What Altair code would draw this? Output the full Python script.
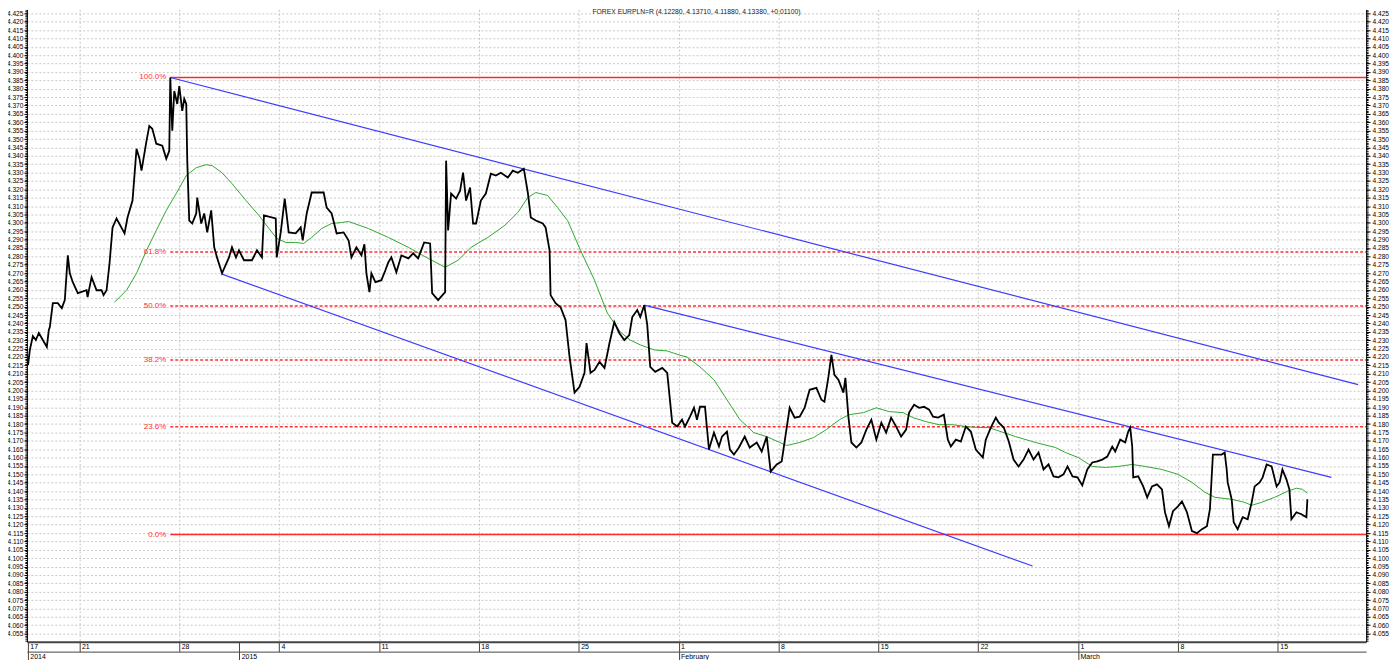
import altair as alt
import pandas as pd

# x unit: trading days since Monday 15 Dec 2014 (weekends removed, 5 per week)
# y unit: EUR/PLN rate
price_t = [2.43, 2.52, 2.67, 2.82, 2.97, 3.17, 3.37, 3.47, 3.52, 3.67, 3.92, 4.12, 4.27, 4.42, 4.52, 4.67, 4.92,
           5.36, 5.41, 5.61, 5.86, 6.11, 6.21, 6.36, 6.51, 6.66, 6.86, 7.26, 7.41, 7.66, 7.86, 8.01, 8.11, 8.36,
           8.50, 8.65, 8.85, 9.15, 9.35, 9.50, 9.55, 9.65, 9.75, 9.90, 10.00, 10.15, 10.25, 10.35, 10.40, 10.50,
           10.65, 10.85, 10.90, 11.10, 11.25, 11.40, 11.60, 11.75, 11.89, 12.14, 12.49, 12.64, 12.84, 12.99, 13.24,
           13.64, 13.89, 14.14, 14.24, 14.83, 14.88, 15.08, 15.28, 15.48, 15.83, 16.08, 16.18, 16.38, 16.63, 17.23,
           17.38, 17.63, 17.88, 18.23, 18.48, 18.62, 18.87, 19.12, 19.27, 19.37, 19.52, 19.62, 19.82, 20.12, 20.32,
           20.47, 20.62, 20.87, 21.12, 21.47, 21.71, 21.96, 22.26, 22.56, 22.66, 22.96, 23.31, 23.36, 23.46, 23.61,
           23.86, 24.06, 24.21, 24.36, 24.56, 24.71, 24.86, 25.10, 25.35, 25.60, 25.85, 26.10, 26.45, 26.70, 26.95,
           27.25, 27.45, 27.60, 27.85, 28.20, 28.34, 28.54, 28.59, 28.84, 29.09, 29.34, 29.54, 29.79, 30.04, 30.29,
           30.39, 30.59, 30.79, 31.04, 31.29, 31.54, 31.78, 32.03, 32.28, 32.53, 32.68, 32.93, 33.08, 33.28, 33.43,
           33.58, 33.83, 34.18, 34.43, 34.68, 34.93, 35.17, 35.32, 35.57, 35.77, 35.92, 36.07, 36.32, 36.52, 36.77,
           37.02, 37.17, 37.42, 37.57, 37.77, 38.02, 38.31, 38.56, 38.91, 39.16, 39.41, 39.61, 39.91, 40.16, 40.31,
           40.56, 40.81, 41.06, 41.31, 41.56, 41.90, 42.15, 42.30, 42.50, 42.65, 42.80, 43.00, 43.25, 43.35, 43.50,
           43.65, 43.90, 44.15, 44.40, 44.65, 44.90, 45.15, 45.39, 45.64, 45.89, 46.14, 46.39, 46.54, 46.79, 47.04,
           47.29, 47.54, 47.74, 47.99, 48.28, 48.48, 48.63, 48.88, 49.13, 49.38, 49.63, 49.88, 50.23, 50.38, 50.63,
           50.88, 51.03, 51.28, 51.53, 51.77, 52.02, 52.27, 52.52, 52.77, 53.02, 53.27, 53.52, 53.77, 54.02, 54.27,
           54.47, 54.72, 54.97, 55.21, 55.46, 55.71, 55.96, 56.21, 56.46, 56.71, 56.86, 57.11, 57.36, 57.51, 57.61,
           57.71, 57.76, 58.01, 58.26, 58.46, 58.70, 58.95, 59.20, 59.35, 59.55, 59.75, 60.00, 60.20, 60.45, 60.70,
           60.95, 61.20, 61.45, 61.60, 61.75, 61.94, 62.19, 62.34, 62.44, 62.49, 62.69, 62.79, 62.99, 63.24, 63.49,
           63.69, 63.84, 64.09, 64.24, 64.44, 64.69, 64.94, 65.09, 65.23, 65.43, 65.58, 65.68, 65.93, 66.18, 66.43,
           66.48]
price_v = [4.2153, 4.2242, 4.2325, 4.2301, 4.2343, 4.2301, 4.2260, 4.2361, 4.2378, 4.2521, 4.2521, 4.2491, 4.2539,
           4.2806, 4.2699, 4.2646, 4.2581, 4.2598, 4.2557, 4.2676, 4.2598, 4.2598, 4.2569, 4.2598, 4.2759, 4.2973,
           4.3026, 4.2937, 4.3032, 4.3133, 4.3442, 4.3383, 4.3311, 4.3489, 4.3578, 4.3561, 4.3472, 4.3460, 4.3383,
           4.3430, 4.3867, 4.3549, 4.3786, 4.3709, 4.3816, 4.3668, 4.3739, 4.3709, 4.3371, 4.3014, 4.2996, 4.3056,
           4.3151, 4.2996, 4.3056, 4.2943, 4.3074, 4.2854, 4.2794, 4.2699, 4.2794, 4.2854, 4.2794, 4.2836, 4.2777,
           4.2777, 4.2836, 4.2794, 4.3044, 4.3026, 4.2794, 4.2943, 4.3145, 4.2943, 4.2937, 4.2973, 4.2895, 4.3056,
           4.3181, 4.3181, 4.3091, 4.3056, 4.2937, 4.2943, 4.2895, 4.2794, 4.2854, 4.2806, 4.2872, 4.2699, 4.2587,
           4.2699, 4.2646, 4.2658, 4.2717, 4.2765, 4.2794, 4.2705, 4.2806, 4.2788, 4.2818, 4.2788, 4.2883, 4.2877,
           4.2581, 4.2539, 4.2587, 4.3371, 4.2955, 4.3175, 4.3145, 4.3192, 4.3299, 4.3133, 4.3210, 4.2996, 4.2996,
           4.3133, 4.3175, 4.3293, 4.3282, 4.3299, 4.3270, 4.3311, 4.3299, 4.3323, 4.3181, 4.3032, 4.3014, 4.2996,
           4.2973, 4.2836, 4.2569, 4.2521, 4.2497, 4.2420, 4.2200, 4.1987, 4.2022, 4.2105, 4.2283, 4.2105, 4.2123,
           4.2171, 4.2135, 4.2283, 4.2408, 4.2343, 4.2301, 4.2331, 4.2438, 4.2480, 4.2438, 4.2509, 4.2391, 4.2141,
           4.2111, 4.2135, 4.2105, 4.1808, 4.1785, 4.1826, 4.1785, 4.1844, 4.1897, 4.1826, 4.1903, 4.1903, 4.1648,
           4.1749, 4.1666, 4.1725, 4.1755, 4.1648, 4.1618, 4.1660, 4.1725, 4.1660, 4.1690, 4.1636, 4.1725, 4.1517,
           4.1559, 4.1577, 4.1696, 4.1897, 4.1838, 4.1844, 4.1897, 4.2004, 4.2016, 4.1945, 4.1933, 4.2081, 4.2212,
           4.2093, 4.2064, 4.1987, 4.2075, 4.1844, 4.1690, 4.1660, 4.1690, 4.1767, 4.1826, 4.1707, 4.1808, 4.1749,
           4.1838, 4.1785, 4.1725, 4.1767, 4.1868, 4.1915, 4.1897, 4.1903, 4.1886, 4.1844, 4.1838, 4.1856, 4.1707,
           4.1666, 4.1707, 4.1696, 4.1785, 4.1755, 4.1648, 4.1600, 4.1707, 4.1779, 4.1838, 4.1808, 4.1779, 4.1696,
           4.1588, 4.1547, 4.1588, 4.1648, 4.1588, 4.1630, 4.1529, 4.1559, 4.1488, 4.1482, 4.1500, 4.1547, 4.1488,
           4.1482, 4.1434, 4.1529, 4.1571, 4.1577, 4.1588, 4.1606, 4.1666, 4.1636, 4.1707, 4.1690, 4.1755, 4.1779,
           4.1666, 4.1482, 4.1488, 4.1428, 4.1363, 4.1428, 4.1440, 4.1410, 4.1274, 4.1191, 4.1280, 4.1309, 4.1339,
           4.1274, 4.1161, 4.1149, 4.1173, 4.1191, 4.1292, 4.1618, 4.1618, 4.1618, 4.1630, 4.1529, 4.1452, 4.1351,
           4.1214, 4.1173, 4.1244, 4.1232, 4.1333, 4.1428, 4.1452, 4.1482, 4.1559, 4.1547, 4.1428, 4.1452, 4.1529,
           4.1470, 4.1410, 4.1232, 4.1274, 4.1262, 4.1244, 4.1351]

ma_t = [6.76, 7.36, 7.86, 8.36, 8.85, 9.35, 9.85, 10.35, 10.85, 11.35, 11.65, 12.14, 12.64, 13.34, 13.99, 14.49,
        14.88, 15.33, 15.83, 16.23, 16.63, 17.13, 17.63, 18.13, 18.48, 19.47, 20.47, 21.47, 22.46, 23.31, 23.96,
        24.61, 25.45, 26.30, 26.95, 27.45, 27.85, 28.44, 28.94, 29.44, 30.09, 30.79, 31.43, 32.08, 32.58, 33.08,
        33.78, 34.43, 35.07, 35.42, 36.07, 36.77, 37.42, 38.07, 38.76, 39.41, 40.06, 40.41, 41.06, 41.75, 42.40,
        43.05, 43.55, 44.25, 44.90, 45.54, 46.24, 46.74, 47.39, 48.04, 48.73, 49.38, 50.04, 50.53, 51.87, 52.87,
        53.87, 54.37, 55.01, 55.71, 56.36, 57.01, 57.71, 58.36, 59.20, 60.00, 60.70, 61.35, 61.85, 62.69, 63.34,
        63.69, 64.19, 64.84, 65.48, 65.93, 66.23, 66.48]
ma_v = [4.2527, 4.2598, 4.2699, 4.2836, 4.2955, 4.3074, 4.3175, 4.3282, 4.3329, 4.3347, 4.3341, 4.3299, 4.3234,
        4.3133, 4.3044, 4.2966, 4.2907, 4.2883, 4.2883, 4.2877, 4.2913, 4.2966, 4.2996, 4.3002, 4.3008, 4.2966,
        4.2913, 4.2854, 4.2788, 4.2735, 4.2777, 4.2854, 4.2913, 4.2985, 4.3062, 4.3151, 4.3181, 4.3163, 4.3091,
        4.3014, 4.2836, 4.2658, 4.2462, 4.2349, 4.2301, 4.2272, 4.2242, 4.2236, 4.2210, 4.2200, 4.2141, 4.2064,
        4.1945, 4.1826, 4.1749, 4.1725, 4.1690, 4.1672, 4.1690, 4.1719, 4.1767, 4.1826, 4.1856, 4.1868, 4.1897,
        4.1874, 4.1868, 4.1838, 4.1814, 4.1796, 4.1796, 4.1785, 4.1779, 4.1779, 4.1725, 4.1690, 4.1660, 4.1630,
        4.1600, 4.1547, 4.1541, 4.1547, 4.1559, 4.1547, 4.1529, 4.1500, 4.1452, 4.1393, 4.1363, 4.1351, 4.1333,
        4.1315, 4.1333, 4.1363, 4.1399, 4.1417, 4.1411, 4.1387]

# Fibonacci retracement between the December high and the March low
fib_high = 4.3867
fib_low = 4.1141
fib_start_t = 9.55
fib_end_t = 69.42
fib_pcts = [1.0, 0.618, 0.5, 0.382, 0.236, 0.0]
fib_labels = ["100.0%", "61.8%", "50.0%", "38.2%", "23.6%", "0.0%"]
fib_solid = [True, False, False, False, False, True]

# Trend lines (start t, start value, end t, end value)
trend_t1 = [9.55, 12.14, 33.28]
trend_v1 = [4.3867, 4.2694, 4.2509]
trend_t2 = [69.02, 52.72, 67.68]
trend_v2 = [4.2035, 4.0953, 4.1482]

# Axis ticks and labels
week_ticks = [2.42, 5, 10, 13, 15, 20, 25, 30, 35, 40, 45, 50, 55, 60, 65]
week_labels = ["17", "21", "28", "", "4", "11", "18", "25", "1", "8", "15", "22", "1", "8", "15"]
grid_ticks = [5, 10, 15, 20, 25, 30, 35, 40, 45, 50, 55, 60, 65]
period_ticks = [2.42, 13, 35, 55]
period_labels = ["2014", "2015", "February", "March"]
y_ticks = [round(4.055 + 0.005 * i, 3) for i in range(75)]
y_minor = [round(4.051 + 0.001 * i, 3) for i in range(377)]
title_text = "FOREX EURPLN=R (4.12280, 4.13710, 4.11880, 4.13380, +0.01100)"

FONT = "Liberation Sans"
W, H = 1345, 635
xs = alt.Scale(domain=[2.373, 69.42], nice=False, zero=False)
ys = alt.Scale(domain=[4.0502, 4.4273], nice=False, zero=False)


def expr_map(vals, labs):
    v = ",".join(str(x) for x in vals)
    l = ",".join("'" + s + "'" for s in labs)
    return "[" + l + "][indexof([" + v + "], datum.value)]"


price_df = pd.DataFrame({"t": price_t, "v": price_v})
ma_df = pd.DataFrame({"t": ma_t, "v": ma_v})
fib_df = pd.DataFrame({
    "t1": [fib_start_t] * 6, "t2": [fib_end_t] * 6,
    "v": [fib_low + p * (fib_high - fib_low) for p in fib_pcts],
    "label": fib_labels, "solid": fib_solid,
})
trend_df = pd.DataFrame({"t1": trend_t1, "v1": trend_v1, "t2": trend_t2, "v2": trend_v2})

y_left = alt.Axis(orient="left", values=y_ticks, format=".3f", labelFont=FONT, labelFontSize=6.6,
                  labelColor="#000", tickSize=3, tickColor="#000", domainColor="#000", labelPadding=1,
                  labelOverlap=False, labelFlush=False, labelBound=False, grid=True, gridColor="#c8c8c8",
                  gridDash=[2, 2], title=None)
y_right = alt.Axis(orient="right", values=y_ticks, format=".3f", labelFont=FONT, labelFontSize=6.6,
                   labelColor="#000", tickSize=4, tickColor="#000", domainColor="#000", labelPadding=2,
                   labelOverlap=False, labelFlush=False, labelBound=False, grid=False, title=None)
y_minor_l = alt.Axis(orient="left", values=y_minor, labels=False, tickSize=2, tickColor="#000",
                     domain=False, grid=False, title=None)
y_minor_r = alt.Axis(orient="right", values=y_minor, labels=False, tickSize=2, tickColor="#000",
                     domain=False, grid=False, title=None)
x_week = alt.Axis(orient="bottom", values=week_ticks, labelExpr=expr_map(week_ticks, week_labels),
                  labelAlign="left", labelBaseline="top", labelOffset=2, labelPadding=-9, tickSize=10,
                  tickColor="#444", domainColor="#444", domainWidth=2, labelFont=FONT, labelFontSize=7,
                  labelColor="#000", labelOverlap=False, labelFlush=False, labelBound=False, grid=False, title=None)
x_period = alt.Axis(orient="bottom", offset=10, values=period_ticks, labelExpr=expr_map(period_ticks, period_labels),
                    labelAlign="left", labelBaseline="top", labelOffset=2, labelPadding=-7, tickSize=8,
                    tickColor="#444", domainColor="#444", domainWidth=1, labelFont=FONT, labelFontSize=7,
                    labelColor="#000", labelOverlap=False, labelFlush=False, labelBound=False, grid=False, title=None)
x_grid = alt.Axis(orient="bottom", values=grid_ticks, labels=False, ticks=False, domain=False, grid=True,
                  gridColor="#c8c8c8", gridDash=[2, 2], title=None)

price = alt.Chart(price_df).mark_line(color="#000000", strokeWidth=1.8).encode(
    x=alt.X("t:Q", scale=xs, axis=x_week), y=alt.Y("v:Q", scale=ys, axis=y_left))
ma = alt.Chart(ma_df).mark_line(color="#2ea82e", strokeWidth=1).encode(
    x=alt.X("t:Q", scale=xs, axis=x_period), y=alt.Y("v:Q", scale=ys, axis=y_right))
fib_solid_l = alt.Chart(fib_df).transform_filter("datum.solid").mark_rule(color="#ff2a2a", strokeWidth=1.4).encode(
    x=alt.X("t1:Q", scale=xs, axis=x_grid), x2="t2:Q", y=alt.Y("v:Q", scale=ys, axis=y_minor_l))
fib_dash_l = alt.Chart(fib_df).transform_filter("!datum.solid").mark_rule(
    color="#ff3030", strokeWidth=1.5, strokeDash=[3, 2]).encode(
    x=alt.X("t1:Q", scale=xs, axis=None), x2="t2:Q", y=alt.Y("v:Q", scale=ys, axis=y_minor_r))
fib_text = alt.Chart(fib_df).mark_text(align="right", baseline="middle", dx=-4, color="#ff3030",
                                       font=FONT, fontSize=8).encode(
    x=alt.X("t1:Q", scale=xs, axis=None), y=alt.Y("v:Q", scale=ys, axis=None), text="label:N")
trend = alt.Chart(trend_df).mark_rule(color="#3c3cff", strokeWidth=1.2).encode(
    x=alt.X("t1:Q", scale=xs, axis=None), y=alt.Y("v1:Q", scale=ys, axis=None), x2="t2:Q", y2="v2:Q")
title = alt.Chart(pd.DataFrame({"s": [title_text]})).mark_text(
    align="center", baseline="top", font=FONT, fontSize=6.8, color="#222").encode(
    x=alt.value(W / 2), y=alt.value(0), text="s:N")

chart = alt.layer(fib_solid_l, fib_dash_l, trend, ma, price, fib_text, title).resolve_scale(
    x="shared", y="shared").resolve_axis(x="independent", y="independent").properties(
    width=W, height=H, autosize=alt.AutoSizeParams(type="none"),
    padding={"left": 19, "top": 0, "right": 26, "bottom": 17}, background="white").configure_view(stroke=None)

chart.save("out.html", embed_options={"renderer": "svg", "actions": False})
